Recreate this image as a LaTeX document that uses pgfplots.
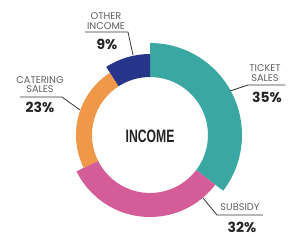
\documentclass[border=0pt]{standalone}
\usepackage{pgfplots}
\pgfplotsset{compat=1.18}
\usepackage{pgfplotstable}
\usepackage{fontspec}
\setmainfont{Poppins}
\newfontfamily\headfont{Liberation Sans}
\definecolor{cTeal}{RGB}{58,167,162}
\definecolor{cPink}{RGB}{212,92,152}
\definecolor{cOrange}{RGB}{240,152,74}
\definecolor{cNavy}{RGB}{38,52,138}
\definecolor{cLabel}{RGB}{95,95,95}
\definecolor{cPct}{RGB}{35,35,35}
\definecolor{cLine}{RGB}{55,55,55}
% value (percent) and outer radius of each ring segment (clockwise from 12 o'clock)
\pgfplotstableread{
name value rout
Ticket 35 92
Subsidy 32 82
Catering 23 74
Other 9 81
}\incometable
\begin{document}
\begin{tikzpicture}
\pgfplotstablegetelem{0}{value}\of\incometable \let\vA\pgfplotsretval
\pgfplotstablegetelem{1}{value}\of\incometable \let\vB\pgfplotsretval
\pgfplotstablegetelem{2}{value}\of\incometable \let\vC\pgfplotsretval
\pgfplotstablegetelem{3}{value}\of\incometable \let\vD\pgfplotsretval
\pgfplotstablegetelem{0}{rout}\of\incometable \let\rA\pgfplotsretval
\pgfplotstablegetelem{1}{rout}\of\incometable \let\rB\pgfplotsretval
\pgfplotstablegetelem{2}{rout}\of\incometable \let\rC\pgfplotsretval
\pgfplotstablegetelem{3}{rout}\of\incometable \let\rD\pgfplotsretval
\pgfmathsetmacro{\total}{\vA+\vB+\vC+\vD}
\pgfmathsetmacro{\aA}{90}
\pgfmathsetmacro{\aB}{\aA-360*\vA/\total}
\pgfmathsetmacro{\aC}{\aB-360*\vB/\total}
\pgfmathsetmacro{\aD}{\aC-360*\vC/\total}
\pgfmathsetmacro{\aE}{\aD-360*\vD/\total}
\def\rin{58}
\begin{axis}[x=1bp,y=1bp,xmin=-150,xmax=150,ymin=-112,ymax=135,
  hide axis,clip=false]
\path (axis cs:-150,-112) rectangle (axis cs:150,135);
\fill[cTeal] (axis cs:{\rA*cos(\aA)},{\rA*sin(\aA)}) arc[start angle=\aA,end angle=\aB,radius=\rA bp]
  -- (axis cs:{\rin*cos(\aB)},{\rin*sin(\aB)}) arc[start angle=\aB,end angle=\aA,radius=\rin bp] -- cycle;
\fill[cPink] (axis cs:{\rB*cos(\aB)},{\rB*sin(\aB)}) arc[start angle=\aB,end angle=\aC,radius=\rB bp]
  -- (axis cs:{\rin*cos(\aC)},{\rin*sin(\aC)}) arc[start angle=\aC,end angle=\aB,radius=\rin bp] -- cycle;
\fill[cOrange] (axis cs:{\rC*cos(\aC)},{\rC*sin(\aC)}) arc[start angle=\aC,end angle=\aD,radius=\rC bp]
  -- (axis cs:{\rin*cos(\aD)},{\rin*sin(\aD)}) arc[start angle=\aD,end angle=\aC,radius=\rin bp] -- cycle;
\fill[cNavy] (axis cs:{\rD*cos(\aD)},{\rD*sin(\aD)}) arc[start angle=\aD,end angle=\aE,radius=\rD bp]
  -- (axis cs:{\rin*cos(\aE)},{\rin*sin(\aE)}) arc[start angle=\aE,end angle=\aD,radius=\rin bp] -- cycle;
% leader lines
\draw[cLine,line width=0.8bp] (axis cs:-65,103) -- (axis cs:-22,103) -- (axis cs:-17,80);
\draw[cLine,line width=0.8bp] (axis cs:80,44) -- (axis cs:98,50) -- (axis cs:135,50);
\draw[cLine,line width=0.8bp] (axis cs:53,-63) -- (axis cs:67,-80) -- (axis cs:113,-80);
\draw[cLine,line width=0.8bp] (axis cs:-130,38) -- (axis cs:-88,38) -- (axis cs:-70,25);
% labels
\begin{scope}[every node/.style={inner sep=0pt,font=\fontsize{9.8}{10}\selectfont,text=cLabel}]
\node at (axis cs:-44,118.5) {OTHER};
\node at (axis cs:-44,109) {INCOME};
\node at (axis cs:115,66.5) {TICKET};
\node at (axis cs:115,57) {SALES};
\node at (axis cs:90,-72.5) {SUBSIDY};
\node at (axis cs:-110,54.5) {CATERING};
\node at (axis cs:-110,45.5) {SALES};
\end{scope}
\begin{scope}[every node/.style={inner sep=0pt,font=\fontsize{14}{14}\selectfont\bfseries,text=cPct}]
\node at (axis cs:-43,91) {9\%};
\node at (axis cs:117,38) {35\%};
\node at (axis cs:92,-92) {32\%};
\node at (axis cs:-110,27.5) {23\%};
\end{scope}
\node[inner sep=0pt,xscale=0.68,text=cPct,font=\headfont\fontsize{18}{18}\selectfont\bfseries] at (axis cs:0,-1.5) {INCOME};
\end{axis}
\end{tikzpicture}
\end{document}
